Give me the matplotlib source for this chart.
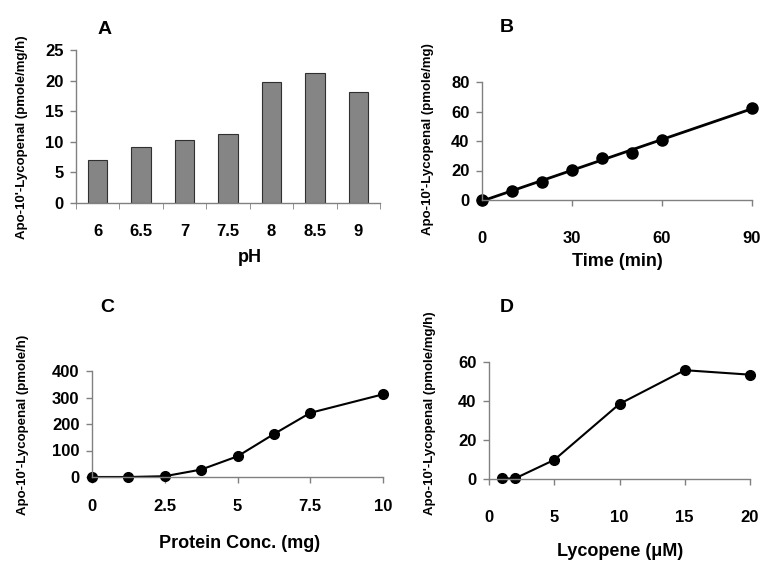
import numpy as np
import matplotlib
matplotlib.use("Agg")
import matplotlib.pyplot as plt

plt.rcParams['font.family'] = ['Liberation Sans', 'DejaVu Sans']
plt.rcParams['font.weight'] = 'bold'

# Panel A: activity vs pH
ph_labels = ['6', '6.5', '7', '7.5', '8', '8.5', '9']
ph_rate = [7.1, 9.1, 10.3, 11.3, 19.8, 21.3, 18.2]

# Panel B: time course
time_min = [0, 10, 20, 30, 40, 50, 60, 90]
time_prod = [0, 6, 12.5, 20.5, 28.5, 32, 41, 62.5]

# Panel C: protein concentration
protein_mg = [0, 1.25, 2.5, 3.75, 5, 6.25, 7.5, 10]
protein_rate = [0, 0, 3, 28, 78, 162, 242, 312]

# Panel D: lycopene concentration
lyc_um = [1, 2, 5, 10, 15, 20]
lyc_rate = [0.3, 0.3, 9.8, 38.5, 55.8, 53.5]

W, H = 769, 567
fig = plt.figure(figsize=(W / 100, H / 100), dpi=100)


def make_ax(l, r, b, t):
    # pixel box -> figure fraction
    return fig.add_axes([l / W, 1 - b / H, (r - l) / W, (b - t) / H])


def style(ax, xpad):
    for s in ['top', 'right']:
        ax.spines[s].set_visible(False)
    for s in ['left', 'bottom']:
        ax.spines[s].set_color('#808080')
        ax.spines[s].set_linewidth(1.0)
    ax.tick_params(axis='both', colors='#808080', labelcolor='black',
                   labelsize=12, length=4, width=1)
    ax.tick_params(axis='x', pad=xpad)
    ax.tick_params(axis='y', pad=5)
    for lbl in ax.get_xticklabels() + ax.get_yticklabels():
        lbl.set_fontweight('bold')


def put_xlabel(ax, text, x, y):
    ax.set_xlabel(text, fontsize=13, fontweight='bold')
    ax.xaxis.set_label_coords(x / W, 1 - y / H, transform=fig.transFigure)
    ax.xaxis.label.set_va('center')


ylab_size = 9.5

# A
axA = make_ax(76, 380, 203, 50)
pos = np.arange(len(ph_rate))
axA.bar(pos, ph_rate, width=0.45, color='#858585', edgecolor='#303030', linewidth=0.8)
axA.set_xlim(-0.5, len(ph_rate) - 0.5)
axA.set_ylim(0, 25)
axA.set_yticks([0, 5, 10, 15, 20, 25])
axA.set_xticks(pos)
axA.set_xticklabels(ph_labels)
axA.set_xticks(np.arange(-0.5, len(ph_rate)), minor=True)
style(axA, 15)
axA.tick_params(axis='x', which='major', length=0)
axA.tick_params(axis='x', which='minor', length=4, colors='#808080')
put_xlabel(axA, 'pH', 250, 258)

# B
axB = make_ax(482, 752, 200, 82)
coef = np.polyfit(time_min, time_prod, 1)
tx = np.array([min(time_min), max(time_min)])
axB.plot(tx, np.polyval(coef, tx), color='black', linewidth=2, clip_on=False)
axB.plot(time_min, time_prod, 'o', color='black', markersize=8, clip_on=False)
axB.set_xlim(0, 90)
axB.set_ylim(0, 80)
axB.set_xticks([0, 30, 60, 90])
axB.set_yticks([0, 20, 40, 60, 80])
style(axB, 18)
put_xlabel(axB, 'Time (min)', 617, 262)

# C
axC = make_ax(92, 383, 477, 371)
axC.plot(protein_mg, protein_rate, '-o', color='black', markersize=7, linewidth=1.5,
         clip_on=False)
axC.set_xlim(0, 10)
axC.set_ylim(0, 400)
axC.set_xticks([0, 2.5, 5, 7.5, 10])
axC.set_xticklabels(['0', '2.5', '5', '7.5', '10'])
axC.set_yticks([0, 100, 200, 300, 400])
style(axC, 12)
put_xlabel(axC, 'Protein Conc. (mg)', 240, 543)

# D
axD = make_ax(489, 750, 479, 362)
axD.plot(lyc_um, lyc_rate, '-o', color='black', markersize=7, linewidth=1.5,
         clip_on=False)
axD.set_xlim(0, 20)
axD.set_ylim(0, 60)
axD.set_xticks([0, 5, 10, 15, 20])
axD.set_yticks([0, 20, 40, 60])
style(axD, 18)
put_xlabel(axD, 'Lycopene (\u03bcM)', 620, 552)

# y labels and panel letters
fig.text(22 / W, 1 - 137 / H, "Apo-10'-Lycopenal (pmole/mg/h)", rotation=90,
         ha='center', va='center', fontsize=ylab_size, fontweight='bold')
fig.text(428 / W, 1 - 139 / H, "Apo-10'-Lycopenal (pmole/mg)", rotation=90,
         ha='center', va='center', fontsize=ylab_size, fontweight='bold')
fig.text(23 / W, 1 - 425 / H, "Apo-10'-Lycopenal (pmole/h)", rotation=90,
         ha='center', va='center', fontsize=ylab_size, fontweight='bold')
fig.text(430 / W, 1 - 413 / H, "Apo-10'-Lycopenal (pmole/mg/h)", rotation=90,
         ha='center', va='center', fontsize=ylab_size, fontweight='bold')

for letter, x, y in [('A', 105, 30), ('B', 507, 28), ('C', 107, 308), ('D', 507, 307)]:
    fig.text(x / W, 1 - y / H, letter, ha='center', va='center', fontsize=14,
             fontweight='bold')

fig.savefig('out.png', dpi=100)
